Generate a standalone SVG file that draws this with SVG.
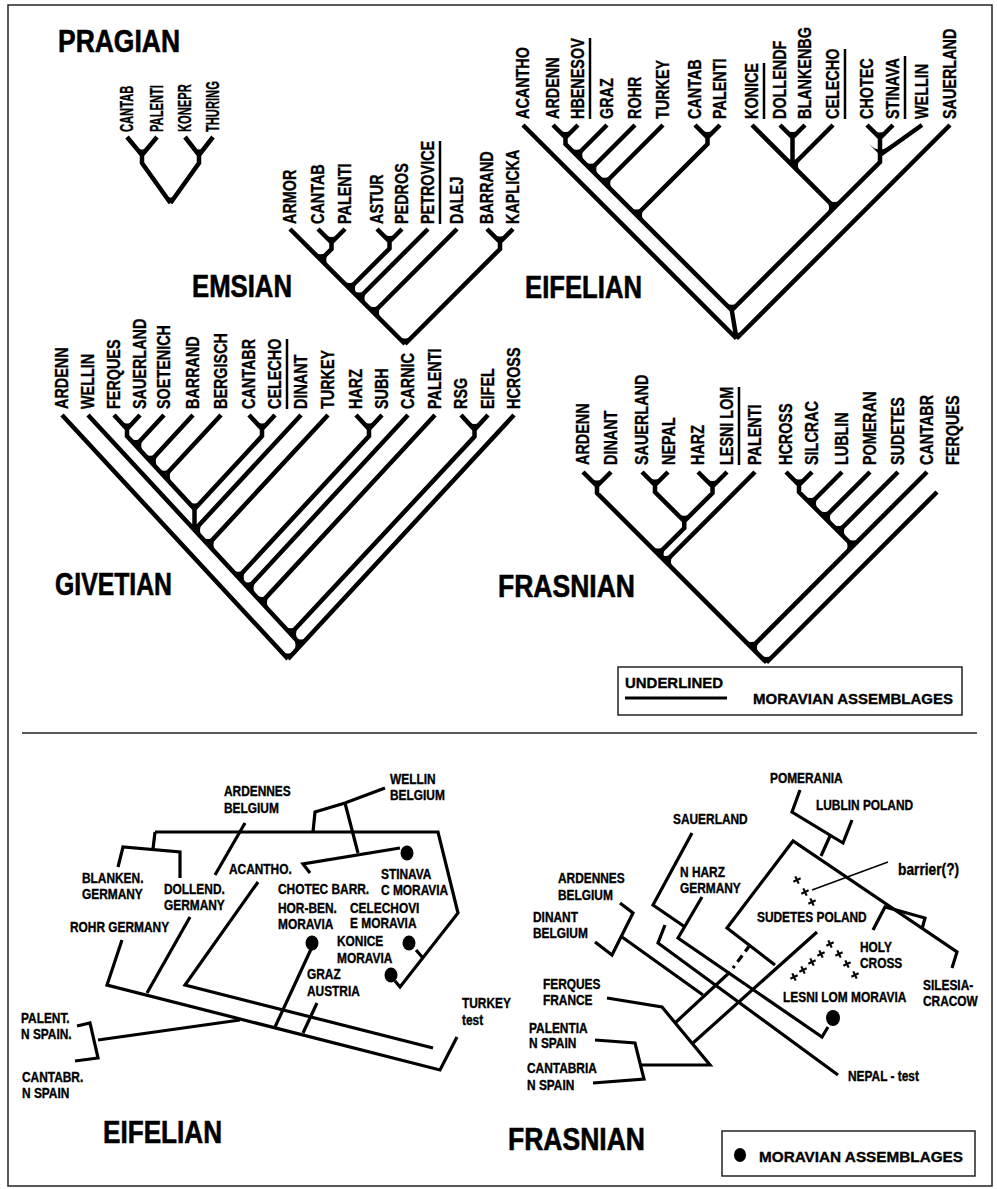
<svg xmlns="http://www.w3.org/2000/svg" xmlns:xlink="http://www.w3.org/1999/xlink" width="997" height="1189" viewBox="0 0 997 1189">
<style>
.t{font-family:"Liberation Sans",Arial,sans-serif;font-weight:bold;fill:#000;stroke:#000;stroke-width:.35}
.ttl{font-size:31px;stroke-width:.6}
.lb{font-size:18px}
.mp{font-size:14px}
.lg{font-size:15px}
.tr{fill:none;stroke:#000;stroke-width:4.5;stroke-linejoin:miter}
.ml{fill:none;stroke:#000;stroke-width:3.2;stroke-linejoin:miter}
.ul{stroke:#000;stroke-width:2.5}
.fr{fill:none;stroke:#222;stroke-width:1.5}
.cr{fill:none;stroke:#000;stroke-width:2.2}
</style>
<defs>
<path id="fU" d="M0 0 l-11 -11 q11 11 22 0z"/>
<path id="fR" d="M0 0 l11 -11 q-11 11 0 22z"/>
<path id="fL" d="M0 0 l-11 -11 q11 11 0 22z"/>
<path id="cx" d="M-4 0H4M0 -4V4" transform="rotate(-25)"/>
</defs>
<rect width="997" height="1189" fill="#fff"/>
<rect class="fr" x="8" y="5" width="984" height="1181"/>
<line class="fr" x1="22" y1="733" x2="977" y2="733"/>

<g id="titles">
<text class="t ttl" x="58" y="52" textLength="122" lengthAdjust="spacingAndGlyphs">PRAGIAN</text>
<text class="t ttl" x="192" y="297" textLength="100" lengthAdjust="spacingAndGlyphs">EMSIAN</text>
<text class="t ttl" x="525" y="298" textLength="117" lengthAdjust="spacingAndGlyphs">EIFELIAN</text>
<text class="t ttl" x="55" y="595" textLength="117" lengthAdjust="spacingAndGlyphs">GIVETIAN</text>
<text class="t ttl" x="498" y="597" textLength="137" lengthAdjust="spacingAndGlyphs">FRASNIAN</text>
<text class="t ttl" x="103" y="1143" textLength="119" lengthAdjust="spacingAndGlyphs">EIFELIAN</text>
<text class="t ttl" x="508" y="1150" textLength="137" lengthAdjust="spacingAndGlyphs">FRASNIAN</text>
</g>

<g id="pragian">
<g id="pragian-labels">
<text class="t lb" transform="matrix(0 -.62 1 0 133.4 132)">CANTAB</text>
<text class="t lb" transform="matrix(0 -.62 1 0 163.4 132)">PALENTI</text>
<text class="t lb" transform="matrix(0 -.62 1 0 191.4 132)">KONEPR</text>
<text class="t lb" transform="matrix(0 -.62 1 0 219.4 132)">THURING</text>
</g>
<g id="pragian-lines">
<path class="tr" d="M127 137L142 155V163L170.5 203M157 137L142 155M185 137L199 155V163L170.5 203M213 137L199 155"/>
<use href="#fU" x="142" y="155"/><use href="#fU" x="199" y="155"/><use href="#fU" x="170.5" y="203"/>
</g>
</g>

<g id="emsian">
<g id="emsian-labels">
<text class="t lb" transform="matrix(0 -.8 1 0 296.4 224)">ARMOR</text>
<text class="t lb" transform="matrix(0 -.8 1 0 324.4 224)">CANTAB</text>
<text class="t lb" transform="matrix(0 -.8 1 0 351.4 224)">PALENTI</text>
<text class="t lb" transform="matrix(0 -.8 1 0 383.4 224)">ASTUR</text>
<text class="t lb" transform="matrix(0 -.8 1 0 408.4 224)">PEDROS</text>
<text class="t lb" transform="matrix(0 -.8 1 0 434.4 224)">PETROVICE</text>
<text class="t lb" transform="matrix(0 -.8 1 0 463.4 224)">DALEJ</text>
<text class="t lb" transform="matrix(0 -.8 1 0 493.4 224)">BARRAND</text>
<text class="t lb" transform="matrix(0 -.8 1 0 519.4 224)">KAPLICKA</text>
<line class="ul" x1="440" y1="224" x2="440" y2="141"/>
</g>
<g id="emsian-lines">
<path class="tr" d="M290 229L405 344M318 229L331.5 242.5V249L320.75 259.75M345 229L331.5 242.5M377 229L389.5 241.5V248.5L349.5 288.5M402 229L389.5 241.5M428 229L359 298M457 229L373.5 312.5M487 229L500 242V249L405 344M513 229L500 242"/>
<use href="#fU" x="331.5" y="242.5"/><use href="#fU" x="320.75" y="259.75"/><use href="#fR" x="320.75" y="259.75"/>
<use href="#fU" x="389.5" y="241.5"/><use href="#fU" x="349.5" y="288.5"/><use href="#fR" x="349.5" y="288.5"/>
<use href="#fU" x="359" y="298"/><use href="#fR" x="359" y="298"/>
<use href="#fU" x="373.5" y="312.5"/><use href="#fR" x="373.5" y="312.5"/>
<use href="#fU" x="500" y="242"/><use href="#fU" x="405" y="344"/>
</g>
</g>

<g id="eifelian-tree">
<g id="eifelian-labels">
<text class="t lb" transform="matrix(0 -.8 1 0 529.4 119)">ACANTHO</text>
<text class="t lb" transform="matrix(0 -.8 1 0 559.4 119)">ARDENN</text>
<text class="t lb" transform="matrix(0 -.8 1 0 584.4 119)">HBENESOV</text>
<text class="t lb" transform="matrix(0 -.8 1 0 613.4 119)">GRAZ</text>
<text class="t lb" transform="matrix(0 -.8 1 0 641.4 119)">ROHR</text>
<text class="t lb" transform="matrix(0 -.8 1 0 669.4 119)">TURKEY</text>
<text class="t lb" transform="matrix(0 -.8 1 0 701.4 119)">CANTAB</text>
<text class="t lb" transform="matrix(0 -.8 1 0 726.4 119)">PALENTI</text>
<text class="t lb" transform="matrix(0 -.8 1 0 758.4 119)">KONICE</text>
<text class="t lb" transform="matrix(0 -.8 1 0 786.4 119)">DOLLENDF</text>
<text class="t lb" transform="matrix(0 -.8 1 0 811.4 119)">BLANKENBG</text>
<text class="t lb" transform="matrix(0 -.8 1 0 839.4 119)">CELECHO</text>
<text class="t lb" transform="matrix(0 -.8 1 0 873.4 119)">CHOTEC</text>
<text class="t lb" transform="matrix(0 -.8 1 0 899.4 119)">STINAVA</text>
<text class="t lb" transform="matrix(0 -.8 1 0 928.4 119)">WELLIN</text>
<text class="t lb" transform="matrix(0 -.8 1 0 956.4 119)">SAUERLAND</text>
<line class="ul" x1="590" y1="119" x2="590" y2="38"/>
<line class="ul" x1="764" y1="119" x2="764" y2="63"/>
<line class="ul" x1="845" y1="119" x2="845" y2="49"/>
<line class="ul" x1="905" y1="119" x2="905" y2="56"/>
</g>
<g id="eifelian-lines">
<path class="tr" d="M523 125L736.5 338.5M950 125L736.5 338.5M553 125L565.5 137.5V144L731.75 310.25L736.5 338.5M578 125L565.5 137.5M607 125L576.75 155.25M635 125L590.75 169.25M663 125L604.75 183.25M695 125L707.5 137.5V144L636.5 215M720 125L707.5 137.5M752 125L834.5 207.5L731.75 310.25M780 125L792.5 137.5V165.5M805 125L792.5 137.5M833 125L792.5 165.5M867 125L880 138V162L834.5 207.5M893 125L880 138M922 125L880 155"/>
<use href="#fU" x="565.5" y="137.5"/>
<use href="#fU" x="576.75" y="155.25"/><use href="#fR" x="576.75" y="155.25"/>
<use href="#fU" x="590.75" y="169.25"/><use href="#fR" x="590.75" y="169.25"/>
<use href="#fU" x="604.75" y="183.25"/><use href="#fR" x="604.75" y="183.25"/>
<use href="#fU" x="707.5" y="137.5"/>
<use href="#fU" x="636.5" y="215"/><use href="#fR" x="636.5" y="215"/>
<use href="#fU" x="792.5" y="137.5"/>
<use href="#fU" x="792.5" y="165.5"/><use href="#fR" x="792.5" y="165.5"/>
<use href="#fU" x="880" y="138"/><use href="#fU" x="880" y="155"/>
<use href="#fU" x="834.5" y="207.5"/><use href="#fL" x="834.5" y="207.5"/>
<use href="#fU" x="731.75" y="310.25"/><use href="#fU" x="736.5" y="338.5"/>
</g>
</g>

<g id="givetian">
<g id="givetian-labels">
<text class="t lb" transform="matrix(0 -.8 1 0 68.4 409)">ARDENN</text>
<text class="t lb" transform="matrix(0 -.8 1 0 94.4 409)">WELLIN</text>
<text class="t lb" transform="matrix(0 -.8 1 0 120.4 409)">FERQUES</text>
<text class="t lb" transform="matrix(0 -.8 1 0 146.4 409)">SAUERLAND</text>
<text class="t lb" transform="matrix(0 -.8 1 0 170.4 409)">SOETENICH</text>
<text class="t lb" transform="matrix(0 -.8 1 0 199.4 409)">BARRAND</text>
<text class="t lb" transform="matrix(0 -.8 1 0 227.4 409)">BERGISCH</text>
<text class="t lb" transform="matrix(0 -.8 1 0 255.4 409)">CANTABR</text>
<text class="t lb" transform="matrix(0 -.8 1 0 281.4 409)">CELECHO</text>
<text class="t lb" transform="matrix(0 -.8 1 0 307.4 409)">DINANT</text>
<text class="t lb" transform="matrix(0 -.8 1 0 334.4 409)">TURKEY</text>
<text class="t lb" transform="matrix(0 -.8 1 0 362.4 409)">HARZ</text>
<text class="t lb" transform="matrix(0 -.8 1 0 388.4 409)">SUBH</text>
<text class="t lb" transform="matrix(0 -.8 1 0 414.4 409)">CARNIC</text>
<text class="t lb" transform="matrix(0 -.8 1 0 441.4 409)">PALENTI</text>
<text class="t lb" transform="matrix(0 -.8 1 0 467.4 409)">RSG</text>
<text class="t lb" transform="matrix(0 -.8 1 0 494.4 409)">EIFEL</text>
<text class="t lb" transform="matrix(0 -.8 1 0 520.4 409)">HCROSS</text>
<line class="ul" x1="287" y1="409" x2="287" y2="339"/>
</g>
<g id="givetian-lines">
<path class="tr" d="M62 415L288 659M514 415L288 659M88 415L301 645M114 415L127 429V436L194.5 509V530M140 415L127 429M164 415L135.8 445.5M193 415L150.3 461.2M221 415L164.3 476.3M249 415L262 429V436L194.5 509M275 415L262 429M301 415L194.5 530M328 415L208 544.6M356 415L369 429V436L238.2 577.2M382 415L369 429M408 415L248 588M435 415L261.5 602.4M461 415L474.5 429.6V436.6L290.6 633.8M488 415L474.5 429.6"/>
<use href="#fU" x="127" y="429"/>
<use href="#fU" x="135.8" y="445.5"/><use href="#fR" x="135.8" y="445.5"/>
<use href="#fU" x="150.3" y="461.2"/><use href="#fR" x="150.3" y="461.2"/>
<use href="#fU" x="164.3" y="476.3"/><use href="#fR" x="164.3" y="476.3"/>
<use href="#fU" x="262" y="429"/><use href="#fU" x="194.5" y="509"/>
<use href="#fU" x="194.5" y="530"/><use href="#fR" x="194.5" y="530"/>
<use href="#fU" x="208" y="544.6"/><use href="#fR" x="208" y="544.6"/>
<use href="#fU" x="369" y="429"/>
<use href="#fU" x="238.2" y="577.2"/><use href="#fR" x="238.2" y="577.2"/>
<use href="#fU" x="248" y="588"/><use href="#fR" x="248" y="588"/>
<use href="#fU" x="261.5" y="602.4"/><use href="#fR" x="261.5" y="602.4"/>
<use href="#fU" x="474.5" y="429.6"/>
<use href="#fU" x="290.6" y="633.8"/><use href="#fR" x="290.6" y="633.8"/>
<use href="#fU" x="301" y="645"/><use href="#fL" x="301" y="645"/>
<use href="#fU" x="288" y="659"/>
</g>
</g>

<g id="frasnian-tree">
<g id="frasnian-labels">
<text class="t lb" transform="matrix(0 -.8 1 0 589.4 465)">ARDENN</text>
<text class="t lb" transform="matrix(0 -.8 1 0 617.4 465)">DINANT</text>
<text class="t lb" transform="matrix(0 -.8 1 0 648.4 465)">SAUERLAND</text>
<text class="t lb" transform="matrix(0 -.8 1 0 675.4 465)">NEPAL</text>
<text class="t lb" transform="matrix(0 -.8 1 0 704.4 465)">HARZ</text>
<text class="t lb" transform="matrix(0 -.8 1 0 733.4 465)">LESNI LOM</text>
<text class="t lb" transform="matrix(0 -.8 1 0 761.4 465)">PALENTI</text>
<text class="t lb" transform="matrix(0 -.8 1 0 792.4 465)">HCROSS</text>
<text class="t lb" transform="matrix(0 -.8 1 0 818.4 465)">SILCRAC</text>
<text class="t lb" transform="matrix(0 -.8 1 0 848.4 465)">LUBLIN</text>
<text class="t lb" transform="matrix(0 -.8 1 0 876.4 465)">POMERAN</text>
<text class="t lb" transform="matrix(0 -.8 1 0 904.4 465)">SUDETES</text>
<text class="t lb" transform="matrix(0 -.8 1 0 933.4 465)">CANTABR</text>
<text class="t lb" transform="matrix(0 -.8 1 0 959.4 465)">FERQUES</text>
<line class="ul" x1="739" y1="465" x2="739" y2="387"/>
</g>
<g id="frasnian-lines">
<path class="tr" d="M583 472L597 486V493L766.5 662.5M611 472L597 486M937 492L766.5 662.5M642 472L655 485V492L684.25 521.25M668 472L655 485M698 472L712.5 486.5V493L684.25 521.25M727 472L712.5 486.5M684.25 521.25V528L658.1 554.1M755 472L665.5 561.5M786 472L799 485V492L853 546M812 472L799 485M842 472L810.5 503.5M870 472L824.5 517.5M898 472L838.5 531.5M927 472L751.5 647.5"/>
<use href="#fU" x="597" y="486"/><use href="#fU" x="655" y="485"/><use href="#fU" x="712.5" y="486.5"/><use href="#fU" x="684.25" y="521.25"/>
<use href="#fU" x="658.1" y="554.1"/><use href="#fR" x="658.1" y="554.1"/>
<use href="#fU" x="665.5" y="561.5"/><use href="#fR" x="665.5" y="561.5"/>
<use href="#fU" x="799" y="485"/>
<use href="#fU" x="810.5" y="503.5"/><use href="#fR" x="810.5" y="503.5"/>
<use href="#fU" x="824.5" y="517.5"/><use href="#fR" x="824.5" y="517.5"/>
<use href="#fU" x="838.5" y="531.5"/><use href="#fR" x="838.5" y="531.5"/>
<use href="#fU" x="853" y="546"/><use href="#fL" x="853" y="546"/>
<use href="#fU" x="751.5" y="647.5"/><use href="#fR" x="751.5" y="647.5"/>
<use href="#fU" x="766.5" y="662.5"/>
</g>
</g>

<g id="legend-underlined">
<rect class="fr" x="618" y="667" width="344" height="48"/>
<text class="t lg" x="625" y="688" textLength="98" lengthAdjust="spacingAndGlyphs">UNDERLINED</text>
<line x1="625" y1="698" x2="727" y2="698" stroke="#000" stroke-width="3.2"/>
<text class="t lg" x="753" y="704" textLength="200" lengthAdjust="spacingAndGlyphs">MORAVIAN ASSEMBLAGES</text>
</g>

<g id="map-eifelian">
<g id="map-eifelian-lines">
<path class="ml" d="M155 832H438L458 913L400 987L395 981"/>
<path class="ml" d="M155 832L153 849"/>
<path class="ml" d="M118 867L123 847L180 852V878"/>
<path class="ml" d="M416 950L423 958"/>
<path class="ml" d="M313 832L315 812L345 803L385 788M345 803L358 853"/>
<path class="ml" d="M310 873L303 864L400 848"/>
<path class="ml" d="M245 823L215 875"/>
<path class="ml" d="M258 882L185 985L433 1048"/>
<path class="ml" d="M122 940L107 985L440 1070L457 1037"/>
<path class="ml" d="M190 917L147 993"/>
<path class="ml" d="M312 947L275 1027"/>
<path class="ml" d="M317 1003L303 1033"/>
<path class="ml" d="M77 1026L90 1023L98 1058L75 1061M98 1040L240 1020"/>
</g>
<g id="map-eifelian-dots">
<ellipse cx="407" cy="853" rx="6.5" ry="7.5"/>
<ellipse cx="312" cy="943" rx="6.5" ry="7.5"/>
<ellipse cx="409" cy="943" rx="6.5" ry="7.5"/>
<ellipse cx="391" cy="975" rx="6.5" ry="7.5"/>
</g>
<g id="map-eifelian-labels">
<text class="t mp" transform="matrix(.85 0 0 1 224 796)">ARDENNES</text>
<text class="t mp" transform="matrix(.85 0 0 1 224 813)">BELGIUM</text>
<text class="t mp" transform="matrix(.85 0 0 1 390 784)">WELLIN</text>
<text class="t mp" transform="matrix(.85 0 0 1 390 800)">BELGIUM</text>
<text class="t mp" transform="matrix(.85 0 0 1 82 883)">BLANKEN.</text>
<text class="t mp" transform="matrix(.85 0 0 1 82 899)">GERMANY</text>
<text class="t mp" transform="matrix(.85 0 0 1 164 894)">DOLLEND.</text>
<text class="t mp" transform="matrix(.85 0 0 1 164 910)">GERMANY</text>
<text class="t mp" transform="matrix(.85 0 0 1 229 874)">ACANTHO.</text>
<text class="t mp" transform="matrix(.85 0 0 1 381 879)">STINAVA</text>
<text class="t mp" transform="matrix(.85 0 0 1 381 895)">C MORAVIA</text>
<text class="t mp" transform="matrix(.85 0 0 1 278 894)">CHOTEC BARR.</text>
<text class="t mp" transform="matrix(.85 0 0 1 278 913)">HOR-BEN.</text>
<text class="t mp" transform="matrix(.85 0 0 1 278 929)">MORAVIA</text>
<text class="t mp" transform="matrix(.85 0 0 1 350 913)">CELECHOVI</text>
<text class="t mp" transform="matrix(.85 0 0 1 350 928)">E MORAVIA</text>
<text class="t mp" transform="matrix(.85 0 0 1 70 932)">ROHR GERMANY</text>
<text class="t mp" transform="matrix(.85 0 0 1 337 946)">KONICE</text>
<text class="t mp" transform="matrix(.85 0 0 1 337 963)">MORAVIA</text>
<text class="t mp" transform="matrix(.85 0 0 1 307 979)">GRAZ</text>
<text class="t mp" transform="matrix(.85 0 0 1 307 996)">AUSTRIA</text>
<text class="t mp" transform="matrix(.85 0 0 1 462 1008)">TURKEY</text>
<text class="t mp" transform="matrix(.85 0 0 1 462 1025)">test</text>
<text class="t mp" transform="matrix(.85 0 0 1 21 1023)">PALENT.</text>
<text class="t mp" transform="matrix(.85 0 0 1 21 1039)">N SPAIN.</text>
<text class="t mp" transform="matrix(.85 0 0 1 22 1082)">CANTABR.</text>
<text class="t mp" transform="matrix(.85 0 0 1 22 1098)">N SPAIN</text>
</g>
</g>

<g id="map-frasnian">
<g id="map-frasnian-lines">
<path class="ml" d="M800 790L792 812L843 843L852 820M830 836L821 856"/>
<path class="ml" d="M775 965L727 928L793 841L957 952L952 968"/>
<path class="ml" d="M873 930L885 907L925 918L922 929"/>
<path class="ml" d="M750 945L733 968" stroke-dasharray="8 5"/>
<path class="ml" d="M730 972L675 1023"/>
<path class="ml" d="M817 932L693 1043"/>
<path class="ml" d="M692 833L653 905L685 927"/>
<path class="ml" d="M702 897L678 938L822 1037L828 1027"/>
<path class="ml" d="M665 925L658 943L838 1075"/>
<path class="ml" d="M620 903L633 913L612 955L595 942M622 937L703 995"/>
<path class="ml" d="M607 998L662 1007L710 1065H641"/>
<path class="ml" d="M595 1040L635 1043L644 1079L593 1083"/>
<line x1="812" y1="890" x2="888" y2="862" stroke="#000" stroke-width="1.5"/>
</g>
<g id="map-frasnian-marks">
<use class="cr" href="#cx" x="797" y="880"/><use class="cr" href="#cx" x="805" y="892"/><use class="cr" href="#cx" x="812" y="902"/>
<use class="cr" href="#cx" x="794" y="977"/><use class="cr" href="#cx" x="803" y="970"/><use class="cr" href="#cx" x="812" y="962"/><use class="cr" href="#cx" x="821" y="954"/><use class="cr" href="#cx" x="830" y="944"/><use class="cr" href="#cx" x="839" y="954"/><use class="cr" href="#cx" x="847" y="964"/><use class="cr" href="#cx" x="855" y="975"/>
<ellipse cx="833" cy="1018" rx="7" ry="8"/>
</g>
<g id="map-frasnian-labels">
<text class="t mp" transform="matrix(.85 0 0 1 770 783)">POMERANIA</text>
<text class="t mp" transform="matrix(.85 0 0 1 816 810)">LUBLIN POLAND</text>
<text class="t mp" transform="matrix(.85 0 0 1 673 824)">SAUERLAND</text>
<text class="t" style="font-size:16px" transform="matrix(.86 0 0 1 898 875)">barrier(?)</text>
<text class="t mp" transform="matrix(.85 0 0 1 680 877)">N HARZ</text>
<text class="t mp" transform="matrix(.85 0 0 1 680 893)">GERMANY</text>
<text class="t mp" transform="matrix(.85 0 0 1 558 883)">ARDENNES</text>
<text class="t mp" transform="matrix(.85 0 0 1 558 900)">BELGIUM</text>
<text class="t mp" transform="matrix(.85 0 0 1 533 922)">DINANT</text>
<text class="t mp" transform="matrix(.85 0 0 1 533 938)">BELGIUM</text>
<text class="t mp" transform="matrix(.85 0 0 1 757 922)">SUDETES POLAND</text>
<text class="t mp" transform="matrix(.85 0 0 1 860 952)">HOLY</text>
<text class="t mp" transform="matrix(.85 0 0 1 860 968)">CROSS</text>
<text class="t mp" transform="matrix(.85 0 0 1 543 989)">FERQUES</text>
<text class="t mp" transform="matrix(.85 0 0 1 543 1005)">FRANCE</text>
<text class="t mp" transform="matrix(.85 0 0 1 783 1002)">LESNI LOM MORAVIA</text>
<text class="t mp" transform="matrix(.85 0 0 1 923 990)">SILESIA-</text>
<text class="t mp" transform="matrix(.85 0 0 1 923 1006)">CRACOW</text>
<text class="t mp" transform="matrix(.85 0 0 1 529 1033)">PALENTIA</text>
<text class="t mp" transform="matrix(.85 0 0 1 529 1048)">N SPAIN</text>
<text class="t mp" transform="matrix(.85 0 0 1 527 1073)">CANTABRIA</text>
<text class="t mp" transform="matrix(.85 0 0 1 527 1090)">N SPAIN</text>
<text class="t mp" transform="matrix(.85 0 0 1 848 1081)">NEPAL - test</text>
</g>
</g>

<g id="legend-dot">
<rect class="fr" x="722" y="1131" width="253" height="45"/>
<ellipse cx="740" cy="1155" rx="6" ry="7"/>
<text class="t lg" x="759" y="1162" textLength="204" lengthAdjust="spacingAndGlyphs">MORAVIAN ASSEMBLAGES</text>
</g>
</svg>
